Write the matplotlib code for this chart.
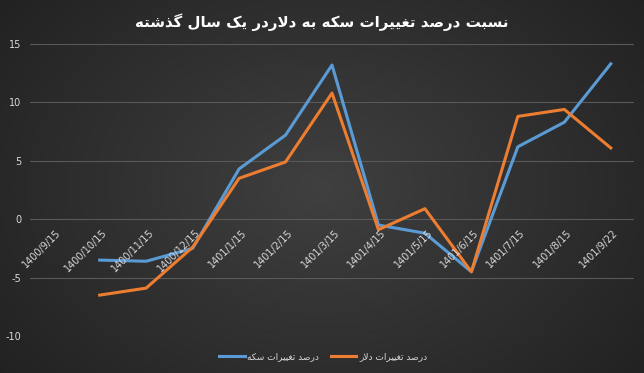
import numpy as np
import matplotlib.pyplot as plt

# Persian text needs joining forms; matplotlib does no shaping, so map by hand
FORMS = {
    'ا': ('\uFE8D', '\uFE8E', None, None),
    'ب': ('\uFE8F', '\uFE90', '\uFE91', '\uFE92'),
    'ت': ('\uFE95', '\uFE96', '\uFE97', '\uFE98'),
    'د': ('\uFEA9', '\uFEAA', None, None),
    'ذ': ('\uFEAB', '\uFEAC', None, None),
    'ر': ('\uFEAD', '\uFEAE', None, None),
    'س': ('\uFEB1', '\uFEB2', '\uFEB3', '\uFEB4'),
    'ش': ('\uFEB5', '\uFEB6', '\uFEB7', '\uFEB8'),
    'ص': ('\uFEB9', '\uFEBA', '\uFEBB', '\uFEBC'),
    'غ': ('\uFECD', '\uFECE', '\uFECF', '\uFED0'),
    'ل': ('\uFEDD', '\uFEDE', '\uFEDF', '\uFEE0'),
    'ن': ('\uFEE5', '\uFEE6', '\uFEE7', '\uFEE8'),
    'ه': ('\uFEE9', '\uFEEA', '\uFEEB', '\uFEEC'),
    'ی': ('\uFBFC', '\uFBFD', '\uFBFE', '\uFBFF'),
    'ک': ('\uFB8E', '\uFB8F', '\uFB90', '\uFB91'),
    'گ': ('\uFB92', '\uFB93', '\uFB94', '\uFB95'),
}


def joins_next(c):
    return c in FORMS and FORMS[c][2] is not None


def shape(text):
    # lam-alef ligature
    chars = []
    i = 0
    while i < len(text):
        if text[i] == 'ل' and i + 1 < len(text) and text[i + 1] == 'ا':
            chars.append('LA')
            i += 2
        else:
            chars.append(text[i])
            i += 1
    out = []
    for k, c in enumerate(chars):
        prev = chars[k - 1] if k > 0 else ' '
        nxt = chars[k + 1] if k + 1 < len(chars) else ' '
        p = joins_next(prev) if prev != 'LA' else False
        if c == 'LA':
            out.append('\uFEFC' if p else '\uFEFB')
            continue
        if c not in FORMS:
            out.append(c)
            continue
        n = (nxt in FORMS or nxt == 'LA') and FORMS[c][2] is not None
        iso, fin, ini, med = FORMS[c]
        if p and n:
            out.append(med)
        elif p:
            out.append(fin)
        elif n:
            out.append(ini)
        else:
            out.append(iso)
    return ''.join(out[::-1])


title = 'نسبت درصد تغییرات سکه به دلاردر یک سال گذشته'
series_names = ['درصد تغییرات سکه', 'درصد تغییرات دلار']

categories = ['1400/9/15', '1400/10/15', '1400/11/15', '1400/12/15', '1401/1/15',
              '1401/2/15', '1401/3/15', '1401/4/15', '1401/5/15', '1401/6/15',
              '1401/7/15', '1401/8/15', '1401/9/22']
coin = [np.nan, -3.5, -3.6, -2.5, 4.3, 7.2, 13.2, -0.5, -1.2, -4.5, 6.2, 8.3, 13.3]
dollar = [np.nan, -6.5, -5.9, -2.4, 3.5, 4.9, 10.8, -0.9, 0.9, -4.5, 8.8, 9.4, 6.1]
yticks = [-10, -5, 0, 5, 10, 15]

fig = plt.figure(figsize=(6.44, 3.73), dpi=100)

# dark radial background
bg = fig.add_axes([0, 0, 1, 1])
yy, xx = np.mgrid[0:1:200j, 0:1:300j]
r = np.sqrt(((xx - 0.5) / 0.7) ** 2 + ((yy - 0.5) / 0.9) ** 2)
shade = np.clip(0.25 - 0.13 * r, 0, 1)
bg.imshow(np.dstack([shade, shade, shade]), aspect='auto', extent=[0, 1, 0, 1])
bg.set_axis_off()

ax = fig.add_axes([30 / 644, 1 - 336 / 373, 604 / 644, 292 / 373])
ax.patch.set_alpha(0)
x = np.arange(len(categories))
ax.plot(x, coin, color='#5b9bd5', lw=2.2, label=shape(series_names[0]))
ax.plot(x, dollar, color='#ed7d31', lw=2.2, label=shape(series_names[1]))

ax.set_xlim(-0.5, len(categories) - 0.5)
ax.set_ylim(-10, 15)
ax.set_yticks(yticks)
ax.set_yticklabels([str(v) for v in yticks], color='#d9d9d9', fontsize=7)
ax.tick_params(axis='y', length=0, pad=6)
ax.set_xticks([])
ax.grid(axis='y', color='#595959', lw=0.8)
ax.set_axisbelow(True)
for s in ax.spines.values():
    s.set_visible(False)

for i, c in enumerate(categories):
    ax.text(i + 0.05, -0.7, c, rotation=45, rotation_mode='anchor', ha='right', va='top',
            color='#d9d9d9', fontsize=7)

fig.text(0.5, 1 - 22 / 373, shape(title), ha='center', va='center', color='white',
         fontsize=10.8, fontweight='bold', family=['DejaVu Sans'])

leg = fig.legend(loc='center', bbox_to_anchor=(0.502, 1 - 357 / 373), ncol=2, frameon=False,
                 fontsize=6.5, handlelength=2.8, columnspacing=1.3, handletextpad=0.3)
for t in leg.get_texts():
    t.set_color('#d9d9d9')

fig.savefig('out.png', dpi=100)
